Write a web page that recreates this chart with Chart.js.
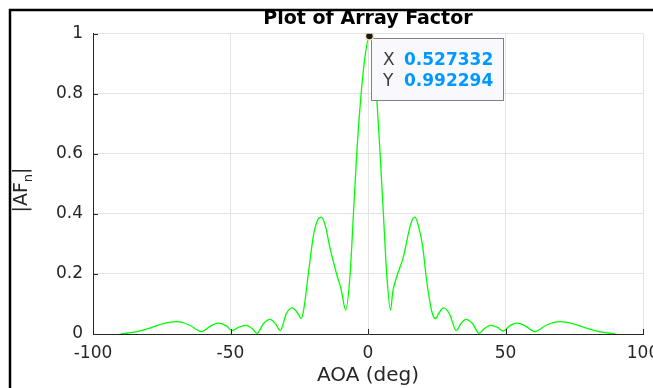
<!DOCTYPE html>
<html>
<head>
<meta charset="utf-8">
<script src="https://cdn.jsdelivr.net/npm/chart.js@4.4.1/dist/chart.umd.min.js"></script>
<style>
html, body { margin: 0; padding: 0; background: #fff; }
#afChart { display: block; }
</style>
</head>
<body>
<canvas id="afChart" width="653" height="388"></canvas>
<script>
// angle of arrival (deg) and normalised array factor magnitude
const aoa = [
  -90, -85, -80, -75, -69.5, -65, -60.5, -57, -54.3, -51.5,
  -49.5, -47, -44.3, -42, -40.4, -38, -35.6, -33.5, -31.9, -29.7,
  -27.5, -25.6, -24.3, -23.3, -21.7, -19.8, -18.3, -17.1, -15.5, -13.8,
  -11.4, -9.8, -8.1, -6.5, -5.3, -4.1, -2.5, -1.0, 0.527, 2.0,
  3.1, 4.4, 5.6, 6.8, 8.2, 9.0, 10.4, 12.8, 15.0, 16.0,
  17.1, 18.6, 19.9, 21.3, 23.2, 24.5, 25.8, 27.4, 29.6, 32.1,
  33.6, 35.6, 38.0, 40.4, 42.2, 44.5, 47, 49.2, 51.5, 54.0,
  57, 60.6, 65, 69.8, 75, 80, 85, 90
];
const afMag = [
  0.000, 0.006, 0.018, 0.033, 0.041, 0.030, 0.008, 0.028, 0.036, 0.027,
  0.011, 0.023, 0.029, 0.017, 0.002, 0.035, 0.049, 0.032, 0.011, 0.068,
  0.087, 0.070, 0.051, 0.085, 0.200, 0.330, 0.380, 0.389, 0.360, 0.285,
  0.200, 0.150, 0.080, 0.200, 0.400, 0.600, 0.800, 0.930, 0.992, 0.930,
  0.800, 0.600, 0.400, 0.200, 0.080, 0.140, 0.190, 0.255, 0.347, 0.378,
  0.389, 0.350, 0.290, 0.180, 0.075, 0.051, 0.070, 0.087, 0.068, 0.011,
  0.032, 0.049, 0.035, 0.002, 0.017, 0.029, 0.023, 0.010, 0.027, 0.036,
  0.028, 0.008, 0.030, 0.041, 0.033, 0.018, 0.006, 0.000
];
const xTicks = [-100, -50, 0, 50, 100];
const yTicks = [0, 0.2, 0.4, 0.6, 0.8, 1];
const tipX = 0.527332;
const tipY = 0.992294;

const axisColor = '#262626';
const gridColor = '#e3e3e3';
const fontFam = '"DejaVu Sans", sans-serif';

// figure frame, inward tick marks, subscripted y label
const figurePlugin = {
  id: 'figure',
  beforeDraw(chart) {
    const ctx = chart.ctx;
    ctx.save();
    ctx.fillStyle = '#fff';
    ctx.fillRect(0, 0, chart.width, chart.height);
    ctx.strokeStyle = '#000';
    ctx.lineWidth = 2.5;
    ctx.beginPath();
    ctx.moveTo(10, chart.height);
    ctx.lineTo(10, 10);
    ctx.lineTo(chart.width, 10);
    ctx.stroke();
    ctx.restore();
  },
  afterDraw(chart) {
    const ctx = chart.ctx;
    const area = chart.chartArea;
    const xs = chart.scales.x, ys = chart.scales.y;
    ctx.save();
    ctx.strokeStyle = axisColor;
    ctx.lineWidth = 1;
    ctx.beginPath();
    xTicks.forEach(v => {
      const px = Math.round(xs.getPixelForValue(v)) + 0.5;
      ctx.moveTo(px, area.bottom);
      ctx.lineTo(px, area.bottom - 5);
    });
    yTicks.forEach(v => {
      const py = Math.round(ys.getPixelForValue(v)) + 0.5;
      ctx.moveTo(area.left, py);
      ctx.lineTo(area.left + 5, py);
    });
    ctx.stroke();

    // |AF_n|
    ctx.translate(27, 190);
    ctx.rotate(-Math.PI / 2);
    ctx.fillStyle = axisColor;
    ctx.textBaseline = 'alphabetic';
    ctx.font = '19px ' + fontFam;
    const w1 = ctx.measureText('|AF').width;
    const w3 = ctx.measureText('|').width;
    ctx.font = '13px ' + fontFam;
    const w2 = ctx.measureText('n').width;
    const start = -(w1 + w2 + w3) / 2;
    ctx.font = '19px ' + fontFam;
    ctx.fillText('|AF', start, 0);
    ctx.font = '13px ' + fontFam;
    ctx.fillText('n', start + w1, 5);
    ctx.font = '19px ' + fontFam;
    ctx.fillText('|', start + w1 + w2, 0);
    ctx.restore();
  },
  // data tip box goes over the curve but under the marker
  afterDatasetDraw(chart, args) {
    if (args.index !== 1) return;
    const pt = chart.getDatasetMeta(0).data[0];
    const ctx = chart.ctx;
    const bx = Math.round(pt.x + 2) + 0.5, by = Math.round(pt.y + 1.5) + 0.5;
    ctx.save();
    ctx.fillStyle = '#f8f8fd';
    ctx.strokeStyle = '#808080';
    ctx.lineWidth = 1;
    ctx.fillRect(bx, by, 132, 62);
    ctx.strokeRect(bx, by, 132, 62);
    ctx.textBaseline = 'alphabetic';
    ctx.font = '17px ' + fontFam;
    ctx.fillStyle = '#404040';
    ctx.fillText('X', pt.x + 13.5, pt.y + 28.5);
    ctx.fillText('Y', pt.x + 13.5, pt.y + 49.5);
    ctx.font = 'bold 17px ' + fontFam;
    ctx.fillStyle = '#0099ff';
    ctx.fillText(tipX.toFixed(6), pt.x + 34.5, pt.y + 28.5);
    ctx.fillText(tipY.toFixed(6), pt.x + 34.5, pt.y + 49.5);
    ctx.restore();
  }
};

const points = aoa.map((a, i) => ({ x: a, y: afMag[i] }));

new Chart(document.getElementById('afChart').getContext('2d'), {
  type: 'line',
  data: {
    datasets: [
      {
        data: [{ x: tipX, y: tipY }],
        showLine: false,
        pointRadius: 4,
        pointBackgroundColor: '#1a1a1a',
        pointBorderColor: '#f3ecaa',
        pointBorderWidth: 1.5
      },
      {
        data: points,
        borderColor: '#00ff00',
        borderWidth: 1.3,
        pointRadius: 0,
        cubicInterpolationMode: 'monotone',
        fill: false
      }
    ]
  },
  options: {
    responsive: false,
    animation: false,
    events: [],
    layout: { padding: { left: 0, top: 0, bottom: 0, right: 10 } },
    plugins: {
      legend: { display: false },
      tooltip: { enabled: false },
      title: {
        display: true,
        text: 'Plot of Array Factor',
        fullSize: false,
        color: '#000',
        font: { family: fontFam, size: 19, weight: 'bold', lineHeight: 1.2 },
        padding: { top: 8, bottom: 3 }
      }
    },
    scales: {
      x: {
        type: 'linear',
        min: -100,
        max: 100,
        afterBuildTicks: s => { s.ticks = xTicks.map(v => ({ value: v })); },
        afterFit: s => { s.height = 54; s.paddingLeft = 0; s.paddingRight = 0; },
        grid: { color: gridColor, drawTicks: false },
        border: { color: axisColor, width: 1 },
        ticks: { color: axisColor, padding: 9, maxRotation: 0, callback: v => String(v), font: { family: fontFam, size: 17 } },
        title: {
          display: true,
          text: 'AOA (deg)',
          color: axisColor,
          padding: 0,
          font: { family: fontFam, size: 20, lineHeight: 1.2 }
        }
      },
      y: {
        type: 'linear',
        min: 0,
        max: 1,
        afterBuildTicks: s => { s.ticks = yTicks.map(v => ({ value: v })); },
        afterFit: s => { s.width = 93; s.paddingTop = 0; s.paddingBottom = 0; },
        grid: { color: gridColor, drawTicks: false },
        border: { color: axisColor, width: 1 },
        ticks: { color: axisColor, padding: 10, callback: v => String(v), font: { family: fontFam, size: 17 } }
      }
    }
  },
  plugins: [figurePlugin]
});
</script>
</body>
</html>
